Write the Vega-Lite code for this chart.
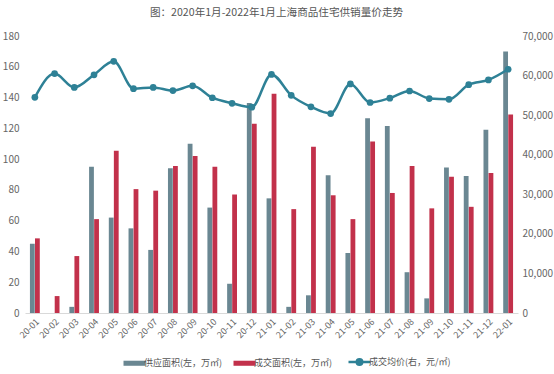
{
  "$schema": "https://vega.github.io/schema/vega-lite/v6.json",
  "width": 493,
  "height": 277,
  "autosize": {"type": "none"},
  "padding": {"left": 25, "top": 36, "right": 37, "bottom": 61},
  "background": "white",
  "config": {
    "font": "Noto Sans CJK SC",
    "view": {"stroke": null},
    "axis": {"grid": false, "labelColor": "#666666", "labelFontSize": 10, "labelFont": "Noto Sans CJK SC"}
  },
  "title": {
    "text": "图：2020年1月-2022年1月上海商品住宅供销量价走势",
    "fontSize": 10.6,
    "fontWeight": "normal",
    "color": "#555555",
    "anchor": "middle",
    "dx": 5,
    "offset": 12
  },
  "datasets": {
    "bars": [
      {"month": "20-01", "series": "供应面积(左，万㎡)", "value": 45},
      {"month": "20-01", "series": "成交面积(左，万㎡)", "value": 48.5},
      {"month": "20-02", "series": "供应面积(左，万㎡)", "value": 0},
      {"month": "20-02", "series": "成交面积(左，万㎡)", "value": 11},
      {"month": "20-03", "series": "供应面积(左，万㎡)", "value": 4},
      {"month": "20-03", "series": "成交面积(左，万㎡)", "value": 37},
      {"month": "20-04", "series": "供应面积(左，万㎡)", "value": 95},
      {"month": "20-04", "series": "成交面积(左，万㎡)", "value": 61},
      {"month": "20-05", "series": "供应面积(左，万㎡)", "value": 62},
      {"month": "20-05", "series": "成交面积(左，万㎡)", "value": 105.5},
      {"month": "20-06", "series": "供应面积(左，万㎡)", "value": 55},
      {"month": "20-06", "series": "成交面积(左，万㎡)", "value": 80.5},
      {"month": "20-07", "series": "供应面积(左，万㎡)", "value": 41},
      {"month": "20-07", "series": "成交面积(左，万㎡)", "value": 79.5},
      {"month": "20-08", "series": "供应面积(左，万㎡)", "value": 94},
      {"month": "20-08", "series": "成交面积(左，万㎡)", "value": 95.5},
      {"month": "20-09", "series": "供应面积(左，万㎡)", "value": 110},
      {"month": "20-09", "series": "成交面积(左，万㎡)", "value": 102},
      {"month": "20-10", "series": "供应面积(左，万㎡)", "value": 68.5},
      {"month": "20-10", "series": "成交面积(左，万㎡)", "value": 95},
      {"month": "20-11", "series": "供应面积(左，万㎡)", "value": 19},
      {"month": "20-11", "series": "成交面积(左，万㎡)", "value": 77},
      {"month": "20-12", "series": "供应面积(左，万㎡)", "value": 136.5},
      {"month": "20-12", "series": "成交面积(左，万㎡)", "value": 123},
      {"month": "21-01", "series": "供应面积(左，万㎡)", "value": 74.5},
      {"month": "21-01", "series": "成交面积(左，万㎡)", "value": 142.5},
      {"month": "21-02", "series": "供应面积(左，万㎡)", "value": 4},
      {"month": "21-02", "series": "成交面积(左，万㎡)", "value": 67.5},
      {"month": "21-03", "series": "供应面积(左，万㎡)", "value": 11.5},
      {"month": "21-03", "series": "成交面积(左，万㎡)", "value": 108},
      {"month": "21-04", "series": "供应面积(左，万㎡)", "value": 89.5},
      {"month": "21-04", "series": "成交面积(左，万㎡)", "value": 76.5},
      {"month": "21-05", "series": "供应面积(左，万㎡)", "value": 39},
      {"month": "21-05", "series": "成交面积(左，万㎡)", "value": 61},
      {"month": "21-06", "series": "供应面积(左，万㎡)", "value": 126.5},
      {"month": "21-06", "series": "成交面积(左，万㎡)", "value": 111.5},
      {"month": "21-07", "series": "供应面积(左，万㎡)", "value": 121.5},
      {"month": "21-07", "series": "成交面积(左，万㎡)", "value": 78},
      {"month": "21-08", "series": "供应面积(左，万㎡)", "value": 26.5},
      {"month": "21-08", "series": "成交面积(左，万㎡)", "value": 95.5},
      {"month": "21-09", "series": "供应面积(左，万㎡)", "value": 9.5},
      {"month": "21-09", "series": "成交面积(左，万㎡)", "value": 68},
      {"month": "21-10", "series": "供应面积(左，万㎡)", "value": 94.5},
      {"month": "21-10", "series": "成交面积(左，万㎡)", "value": 88.5},
      {"month": "21-11", "series": "供应面积(左，万㎡)", "value": 89},
      {"month": "21-11", "series": "成交面积(左，万㎡)", "value": 69},
      {"month": "21-12", "series": "供应面积(左，万㎡)", "value": 119},
      {"month": "21-12", "series": "成交面积(左，万㎡)", "value": 91},
      {"month": "22-01", "series": "供应面积(左，万㎡)", "value": 170},
      {"month": "22-01", "series": "成交面积(左，万㎡)", "value": 129}
    ],
    "price": [
      {"month": "20-01", "price": 54500},
      {"month": "20-02", "price": 60500},
      {"month": "20-03", "price": 57000},
      {"month": "20-04", "price": 60200},
      {"month": "20-05", "price": 63600},
      {"month": "20-06", "price": 56700},
      {"month": "20-07", "price": 57000},
      {"month": "20-08", "price": 56200},
      {"month": "20-09", "price": 57400},
      {"month": "20-10", "price": 54400},
      {"month": "20-11", "price": 53000},
      {"month": "20-12", "price": 52000},
      {"month": "21-01", "price": 60300},
      {"month": "21-02", "price": 55000},
      {"month": "21-03", "price": 52100},
      {"month": "21-04", "price": 50400},
      {"month": "21-05", "price": 57900},
      {"month": "21-06", "price": 53200},
      {"month": "21-07", "price": 54300},
      {"month": "21-08", "price": 56100},
      {"month": "21-09", "price": 54200},
      {"month": "21-10", "price": 54000},
      {"month": "21-11", "price": 57700},
      {"month": "21-12", "price": 58900},
      {"month": "22-01", "price": 61600}
    ]
  },
  "encoding": {
    "x": {
      "field": "month",
      "type": "ordinal",
      "sort": null,
      "scale": {"paddingInner": 0.5, "paddingOuter": 0.25},
      "axis": {
        "title": null,
        "labelAngle": -45,
        "labelFontSize": 9,
        "ticks": false,
        "domainColor": "#d9d9d9",
        "labelPadding": 4
      }
    }
  },
  "layer": [
    {
      "data": {"name": "bars"},
      "mark": {"type": "bar"},
      "encoding": {
        "xOffset": {
          "field": "series",
          "type": "nominal",
          "sort": ["供应面积(左，万㎡)", "成交面积(左，万㎡)"],
          "scale": {"paddingInner": 0.05}
        },
        "y": {
          "field": "value",
          "type": "quantitative",
          "scale": {"domain": [0, 180], "nice": false},
          "axis": {
            "title": null,
            "values": [0, 20, 40, 60, 80, 100, 120, 140, 160, 180],
            "domain": false,
            "ticks": false,
            "labelPadding": 6
          }
        },
        "color": {
          "field": "series",
          "type": "nominal",
          "scale": {
            "domain": ["供应面积(左，万㎡)", "成交面积(左，万㎡)", "成交均价(右，元/㎡)"],
            "range": ["#6a8792", "#c2314b", "#2e8196"]
          },
          "legend": {
            "title": null,
            "orient": "none",
            "legendX": 105,
            "legendY": 321,
            "direction": "horizontal",
            "labelFontSize": 9,
            "labelColor": "#555555",
            "symbolSize": 484,
            "columnPadding": 10,
            "labelOffset": 5,
            "encode": {
              "symbols": {
                "update": {
                  "shape": {"signal": "datum.value === '成交均价(右，元/㎡)' ? 'M-1,0H1M-0.25,0A0.25,0.25 0 1,0 0.25,0A0.25,0.25 0 1,0 -0.25,0' : 'M-1,-0.23H1V0.23H-1Z'"},
                  "size": {"value": 484},
                  "fill": {"signal": "scale('color', datum.value)"},
                  "stroke": {"signal": "scale('color', datum.value)"},
                  "strokeWidth": {"signal": "datum.value === '成交均价(右，元/㎡)' ? 2.5 : 0"},
                  "fillOpacity": {"value": 1},
                  "opacity": {"value": 1}
                }
              }
            }
          }
        }
      }
    },
    {
      "data": {"name": "price"},
      "mark": {
        "type": "line",
        "interpolate": "monotone",
        "strokeWidth": 2.5,
        "point": {"filled": true, "size": 45}
      },
      "encoding": {
        "y": {
          "field": "price",
          "type": "quantitative",
          "scale": {"domain": [0, 70000], "nice": false},
          "axis": {
            "title": null,
            "orient": "right",
            "values": [0, 10000, 20000, 30000, 40000, 50000, 60000, 70000],
            "domain": false,
            "ticks": false,
            "labelPadding": 4
          }
        },
        "color": {"datum": "成交均价(右，元/㎡)"}
      }
    }
  ],
  "resolve": {"scale": {"y": "independent"}, "axis": {"y": "independent"}}
}
